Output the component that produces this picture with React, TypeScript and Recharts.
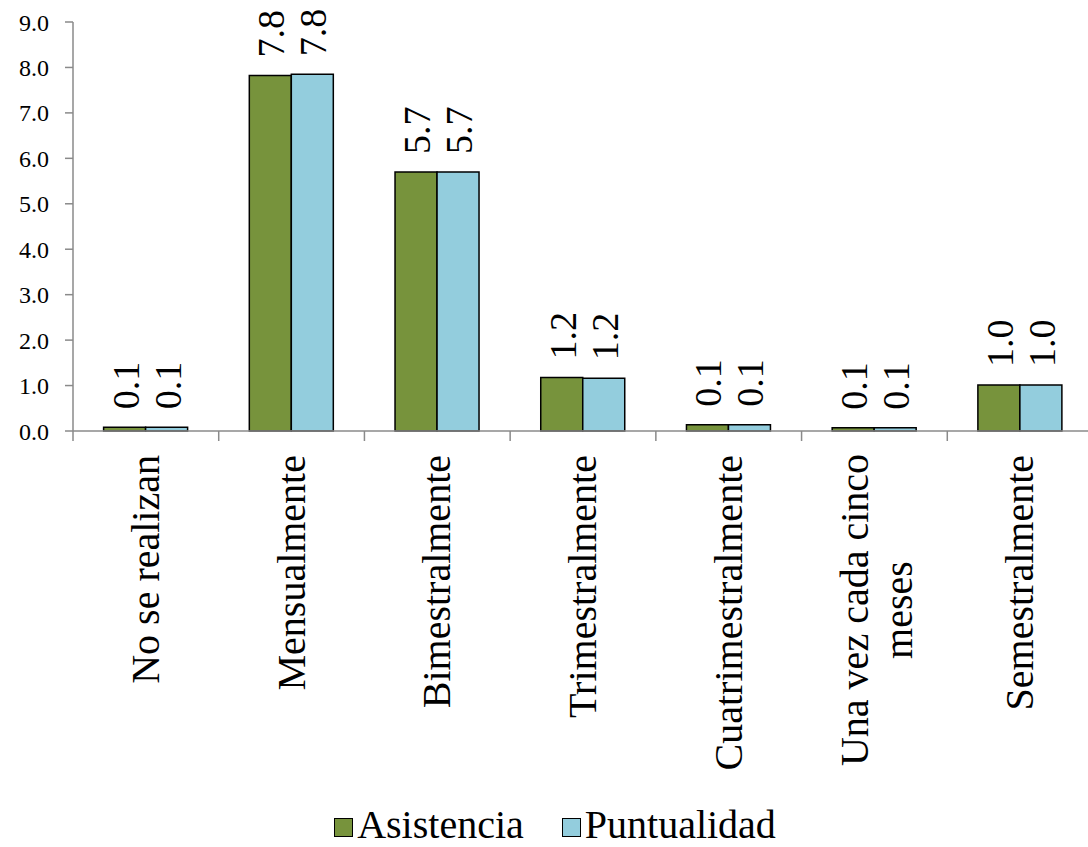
import { BarChart, Bar, XAxis, YAxis, Legend, LabelList } from 'recharts';

const categories = [
  'No se realizan',
  'Mensualmente',
  'Bimestralmente',
  'Trimestralmente',
  'Cuatrimestralmente',
  'Una vez cada cinco meses',
  'Semestralmente',
];
const asistencia = [0.08, 7.82, 5.7, 1.18, 0.14, 0.07, 1.01];
const puntualidad = [0.08, 7.85, 5.7, 1.16, 0.14, 0.07, 1.01];
const yTicks = [0, 1, 2, 3, 4, 5, 6, 7, 8, 9];

const series = [
  { key: 'asistencia', name: 'Asistencia', color: '#77933C' },
  { key: 'puntualidad', name: 'Puntualidad', color: '#93CDDD' },
];

const data = categories.map((c, i) => ({
  categoria: c,
  asistencia: asistencia[i],
  puntualidad: puntualidad[i],
}));

const FONT = 'Liberation Serif';
const AXIS = '#8a8a8a';

// break long category names into lines of at most 18 characters
const wrap = (text: string, max: number) => {
  const lines: string[] = [];
  let cur = '';
  text.split(' ').forEach(w => {
    const next = cur ? cur + ' ' + w : w;
    if (cur && next.length > max) {
      lines.push(cur);
      cur = w;
    } else cur = next;
  });
  if (cur) lines.push(cur);
  return lines;
};

const CategoryTick = (props: any) => {
  const { x, y, payload, width, visibleTicksCount, index } = props;
  const half = width / visibleTicksCount / 2;
  const lines = wrap(String(payload.value), 18);
  const top = y + 24;
  return (
    <g>
      <line x1={x - half} x2={x - half} y1={y} y2={y + 10} stroke={AXIS} strokeWidth={1.5} />
      {index === visibleTicksCount - 1 && (
        <line x1={x + half} x2={x + half} y1={y} y2={y + 10} stroke={AXIS} strokeWidth={1.5} />
      )}
      {lines.length === 1 ? (
        <text
          transform={`translate(${x},${top}) rotate(-90)`}
          x={0}
          y={13}
          textAnchor="end"
          fontSize={40}
          fontFamily={FONT}
          fill="#000"
        >
          {lines[0]}
        </text>
      ) : (
        <g transform={`translate(${x},${top + 155}) rotate(-90)`}>
          {lines.map((l, i) => (
            <text key={i} x={0} y={-6 + i * 44} textAnchor="middle" fontSize={40} fontFamily={FONT} fill="#000">
              {l}
            </text>
          ))}
        </g>
      )}
    </g>
  );
};

const ValueLabel = (props: any) => {
  const { x, y, width, value } = props;
  const cx = x + width / 2;
  return (
    <text
      transform={`translate(${cx},${y - 18}) rotate(-90)`}
      x={0}
      y={14}
      textAnchor="start"
      fontSize={38}
      fontFamily={FONT}
      fill="#000"
    >
      {Number(value).toFixed(1)}
    </text>
  );
};

const LegendBox = () => (
  <div style={{ display: 'flex', justifyContent: 'center', alignItems: 'center', height: 44, paddingTop: 8, fontSize: 40, color: '#000' }}>
    {series.map((s, i) => (
      <div key={s.key} style={{ display: 'flex', alignItems: 'center', marginLeft: i ? 38 : 0 }}>
        <span style={{ display: 'inline-block', width: 17, height: 17, background: s.color, border: '1.5px solid #000', marginRight: 4, marginTop: 4 }} />
        <span style={{ lineHeight: '44px', fontFamily: `'${FONT}'` }}>{s.name}</span>
      </div>
    ))}
  </div>
);

export default function App() {
  return (
    <div style={{ position: 'absolute', left: 0, top: 0, width: 1088, height: 847, overflow: 'hidden', background: '#fff' }}>
      <BarChart
        width={1110}
        height={847}
        data={data}
        margin={{ top: 22, right: 17, left: 0, bottom: 0 }}
        barCategoryGap="21%"
        barGap={0}
      >
        <XAxis
          dataKey="categoria"
          interval={0}
          height={364}
          tickLine={false}
          tickSize={0}
          tickMargin={0}
          axisLine={{ stroke: AXIS, strokeWidth: 1.5 }}
          tick={<CategoryTick />}
        />
        <YAxis
          width={73}
          domain={[0, 9]}
          ticks={yTicks}
          interval={0}
          tickSize={8}
          tickMargin={16}
          tickFormatter={(v: number) => v.toFixed(1)}
          axisLine={{ stroke: AXIS, strokeWidth: 1.5 }}
          tickLine={{ stroke: AXIS, strokeWidth: 1.5 }}
          tick={{ fill: '#000', fontSize: 24, fontFamily: FONT }}
        />
        <Legend
          verticalAlign="bottom"
          content={() => <LegendBox />}
          wrapperStyle={{ left: 0, width: 1110, bottom: 0 }}
        />
        {series.map(s => (
          <Bar key={s.key} dataKey={s.key} name={s.name} fill={s.color} stroke="#000" strokeWidth={1.5} isAnimationActive={false}>
            <LabelList dataKey={s.key} content={<ValueLabel />} />
          </Bar>
        ))}
      </BarChart>
    </div>
  );
}
